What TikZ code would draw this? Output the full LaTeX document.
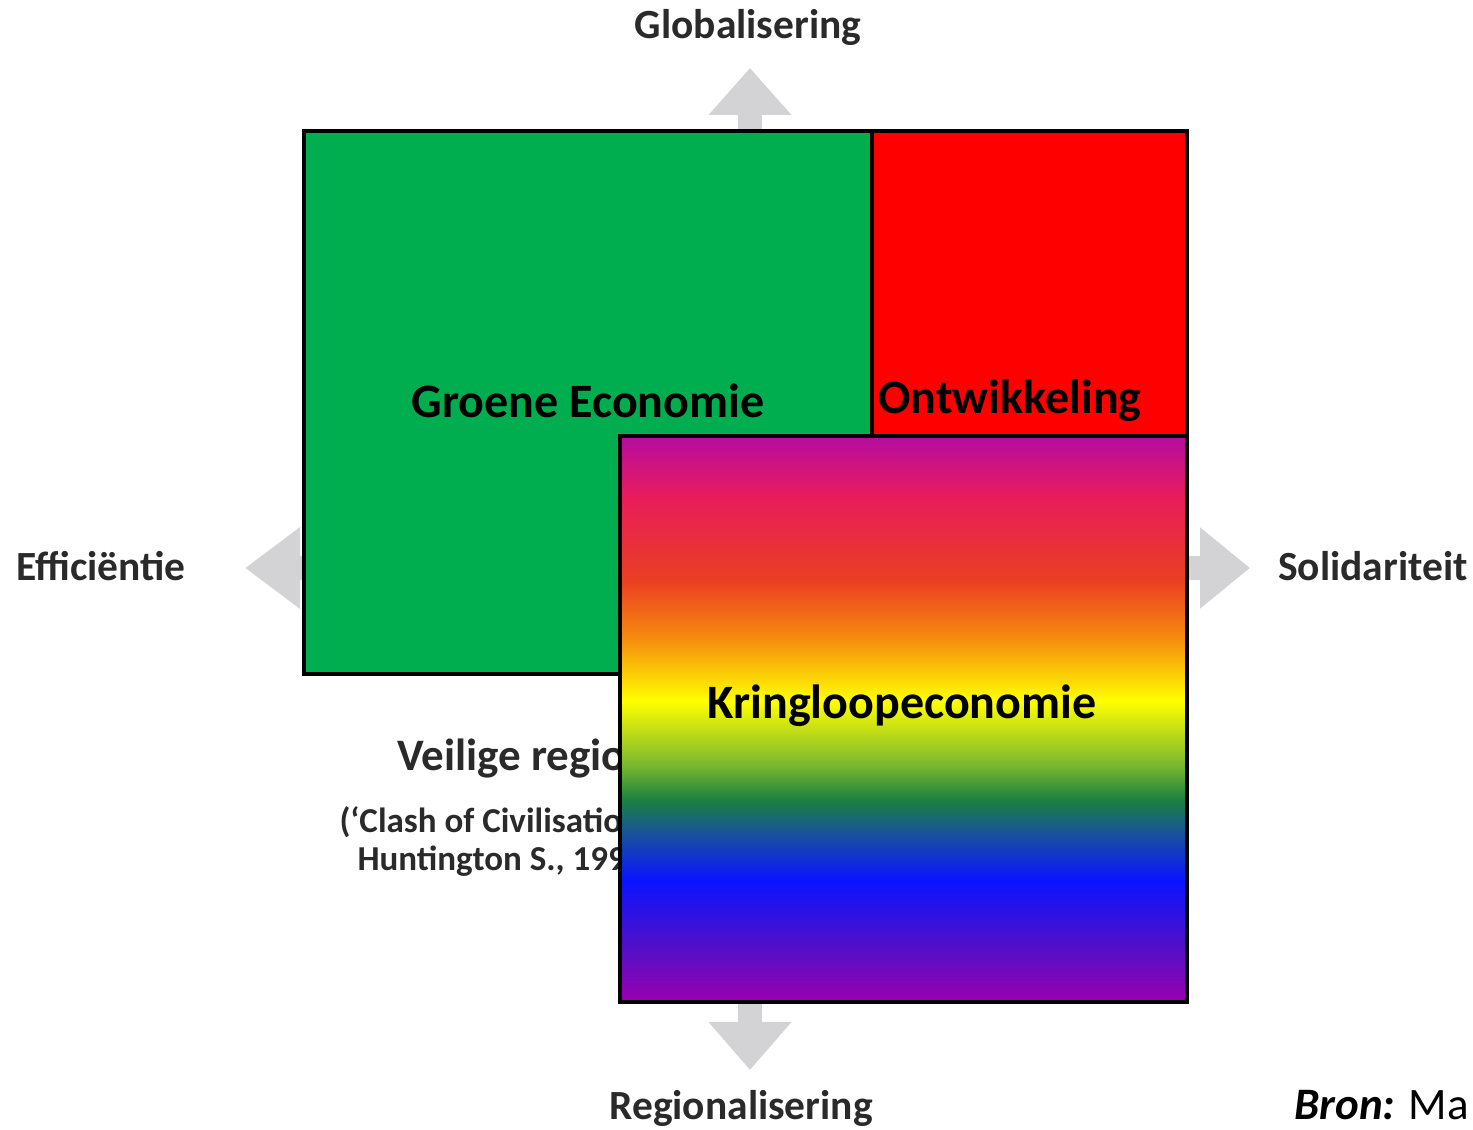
\documentclass[tikz,border=0pt]{standalone}
\usepackage{fontspec}
\setmainfont{Carlito}
\usetikzlibrary{arrows.meta}
\definecolor{groen}{HTML}{00AD4F}
\definecolor{rood}{HTML}{FF0000}
\definecolor{pijlgrijs}{HTML}{D3D3D5}
\definecolor{asgrijs}{HTML}{2A2A2A}
% shading: het pad vult het middelste deel (25bp--75bp)
\pgfdeclareverticalshading{regenboog}{100bp}{%
  color(0bp)=(rgb,255:red,154;green,0;blue,176);
  color(25bp)=(rgb,255:red,154;green,0;blue,176);
  color(30bp)=(rgb,255:red,80;green,16;blue,200);
  color(35.75bp)=(rgb,255:red,10;green,20;blue,255);
  color(39.75bp)=(rgb,255:red,24;green,80;blue,160);
  color(42.85bp)=(rgb,255:red,26;green,128;blue,64);
  color(45.95bp)=(rgb,255:red,122;green,184;blue,48);
  color(51.6bp)=(rgb,255:red,255;green,255;blue,0);
  color(57.35bp)=(rgb,255:red,245;green,136;blue,15);
  color(62.2bp)=(rgb,255:red,234;green,63;blue,34);
  color(69.7bp)=(rgb,255:red,232;green,28;blue,92);
  color(75bp)=(rgb,255:red,180;green,12;blue,160);
  color(100bp)=(rgb,255:red,180;green,12;blue,160)}
\tikzset{
  aslabel/.style={font=\bfseries\fontsize{41.5}{48}\selectfont, text=asgrijs},
  vaklabel/.style={font=\bfseries\fontsize{48}{56}\selectfont, text=black},
  pijl/.style={draw=pijlgrijs, line width=24pt}
}
\begin{document}
\begin{tikzpicture}[x=1pt,y=1pt]
  \useasboundingbox (0,0) rectangle (1473,1130);
  % grijze assen
  \coordinate (m) at (750,562);
  \coordinate (boven) at (750,1062);
  \coordinate (onder) at (750,60);
  \coordinate (links) at (245,562);
  \coordinate (rechts) at (1250,562);
  \draw[pijl, -{Triangle[length=47pt,width=80pt]}] (m) -- (boven);
  \draw[pijl, -{Triangle[length=48pt,width=80pt]}] (m) -- (onder);
  \draw[pijl, -{Triangle[length=55pt,width=78pt]}] (m) -- (links);
  \draw[pijl, -{Triangle[length=50pt,width=78pt]}] (m) -- (rechts);
  \node[aslabel] (glob) at (748,1103) {Globalisering};
  \node[aslabel] (reg) at (741,22) {Regionalisering};
  \node[aslabel] (eff) at (101,564) {Efficiëntie};
  \node[aslabel] (sol) at (1373,564) {Solidariteit};
  % tekst achter de regenboog
  \node[aslabel, anchor=west, font=\bfseries\fontsize{45}{52}\selectfont] (veilig) at (394,372) {Veilige regio's};
  \node[aslabel, anchor=west, font=\bfseries\fontsize{35}{40}\selectfont] (clash) at (336,308) {(‘Clash of Civilisations’,};
  \node[aslabel, anchor=west, font=\bfseries\fontsize{35}{40}\selectfont] (hunt) at (354,270) {Huntington S., 1996)};
  % vakken
  \filldraw[fill=groen, line width=4pt] (304,999) rectangle (872,456);
  \filldraw[fill=rood, line width=4pt] (872,999) rectangle (1187,694);
  \shade[shading=regenboog] (620,694) rectangle (1187,128);
  \draw[line width=4pt] (620,694) rectangle (1187,128);
  \node[vaklabel] (groen) at (588,729) {Groene Economie};
  \node[vaklabel] (ontw) at (1010,729) {Ontwikkeling};
  \node[vaklabel] (kring) at (902,424) {Kringloopeconomie};
  \node[anchor=west, inner sep=0pt, font=\fontsize{45}{52}\selectfont] (bron) at (1294,25) {\textbf{\textit{Bron:}} Ma};
\end{tikzpicture}
\end{document}
